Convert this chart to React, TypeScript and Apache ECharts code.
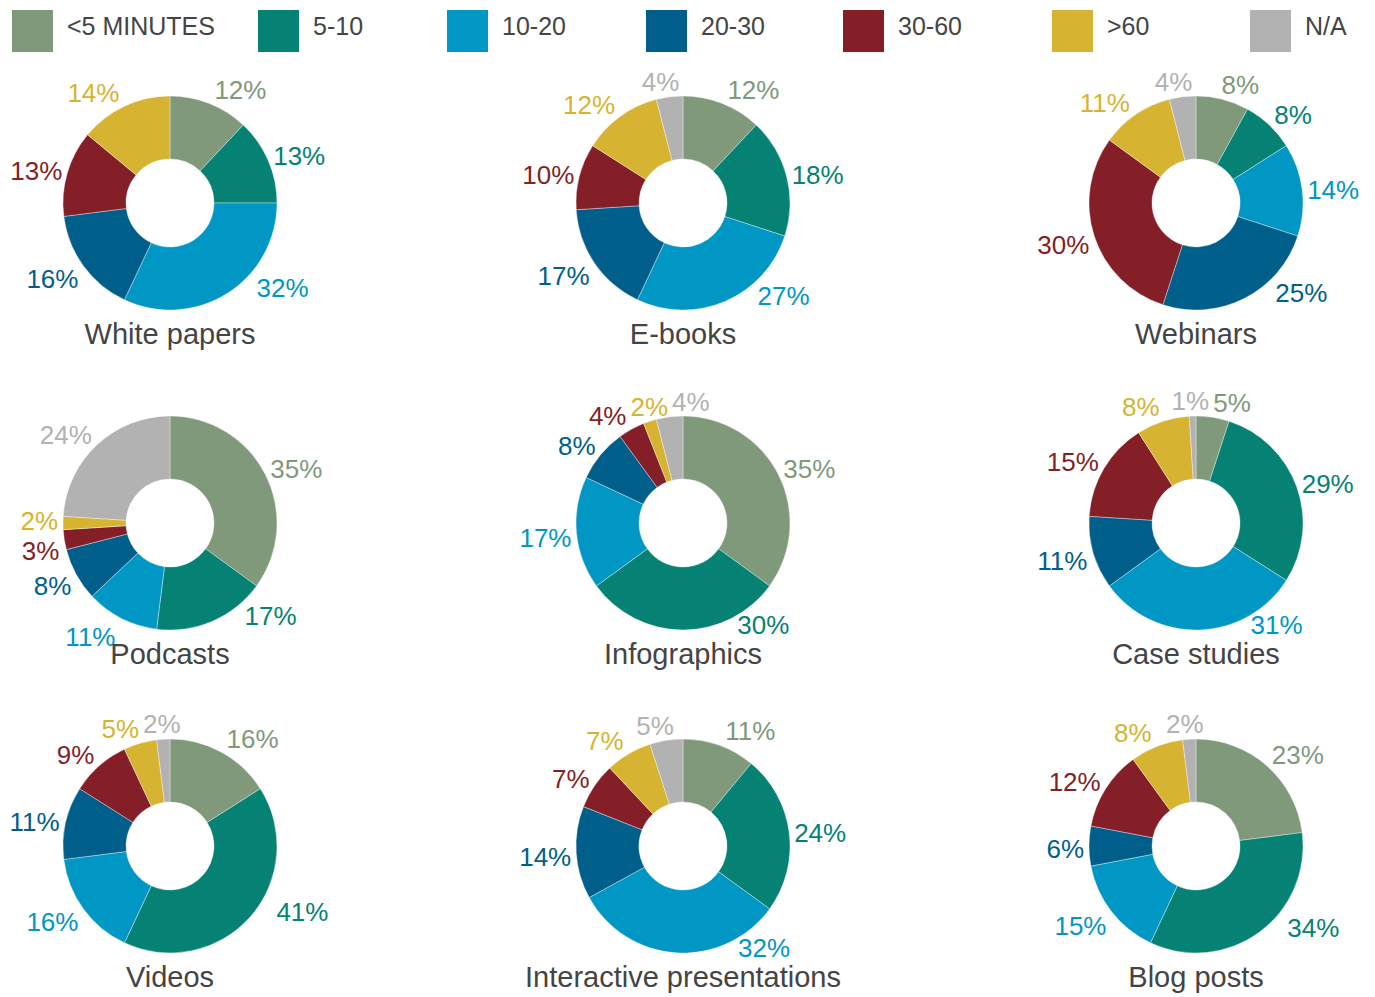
import React, { useEffect, useRef } from "react";
import * as echarts from "echarts";

const CATEGORIES = ["<5 MINUTES", "5-10", "10-20", "20-30", "30-60", ">60", "N/A"];
const COLORS = ["#7F997A", "#058273", "#0097C4", "#005F8A", "#841F27", "#D6B432", "#B2B2B2"];

const TITLES = [
  "White papers", "E-books", "Webinars",
  "Podcasts", "Infographics", "Case studies",
  "Videos", "Interactive presentations", "Blog posts",
];

// values in category order: <5, 5-10, 10-20, 20-30, 30-60, >60, N/A (null = not shown)
const WHITE_PAPERS = [12, 13, 32, 16, 13, 14, null];
const E_BOOKS = [12, 18, 27, 17, 10, 12, 4];
const WEBINARS = [8, 8, 14, 25, 30, 11, 4];
const PODCASTS = [35, 17, 11, 8, 3, 2, 24];
const INFOGRAPHICS = [35, 30, 17, 8, 4, 2, 4];
const CASE_STUDIES = [5, 29, 31, 11, 15, 8, 1];
const VIDEOS = [16, 41, 16, 11, 9, 5, 2];
const INTERACTIVE = [11, 24, 32, 14, 7, 7, 5];
const BLOG_POSTS = [23, 34, 15, 6, 12, 8, 2];

const ALL_VALUES = [
  WHITE_PAPERS, E_BOOKS, WEBINARS,
  PODCASTS, INFOGRAPHICS, CASE_STUDIES,
  VIDEOS, INTERACTIVE, BLOG_POSTS,
];

const COL_X = [170, 683, 1196];
const ROW_Y = [203, 523, 846];
const LEGEND_X = [12, 258, 447, 646, 843, 1052, 1250];
const R_IN = 44;
const R_OUT = 107;

const FONT = "'Liberation Sans', Arial, Helvetica, sans-serif";
const LABEL_FS = 26;

type Pos = { x: number; y: number; w: number; h: number; dx: number; dy: number };

// Compute outside-end style label positions for one donut, from its data.
function computeLabelPositions(values: number[], cx: number, cy: number): Pos[] {
  const total = values.reduce((a, b) => a + b, 0);
  let cum = 0;
  const pos: Pos[] = values.map((v) => {
    const mid = ((cum + v / 2) / total) * Math.PI * 2;
    cum += v;
    const dx = Math.sin(mid);
    const dy = -Math.cos(mid);
    const ex = cx + R_OUT * dx;
    const ey = cy + R_OUT * dy;
    const txt = String(v);
    const w = (txt.length * 0.556 + 0.889) * LABEL_FS;
    const h = LABEL_FS + 4;
    let x: number;
    let y: number;
    if (dy > 0.5 && dx > -0.2) {
      // lower-right: keep beside the ring, away from the title
      y = ey - 5;
      const off = Math.sqrt(Math.max(0, R_OUT * R_OUT - (y - cy) * (y - cy)));
      x = cx + off + 22 + w / 2;
    } else {
      const f = Math.min(1, 3 * Math.abs(dx));
      x = ex + Math.sign(dx) * (w / 2 + 5) * f;
      y = ey + dy * (LABEL_FS / 2 + 5) + 3;
    }
    return { x, y, w, h, dx, dy };
  });
  // resolve overlaps
  for (let pass = 0; pass < 4; pass++) {
    for (let i = 0; i < pos.length; i++) {
      for (let j = i + 1; j < pos.length; j++) {
        const a = pos[i];
        const b = pos[j];
        const ox = (a.w + b.w) / 2 + 4 - Math.abs(a.x - b.x);
        const oy = (a.h + b.h) / 2 - Math.abs(a.y - b.y);
        if (ox <= 0 || oy <= 0) continue;
        const horizontal = Math.abs(a.dy) > 0.7 && Math.abs(b.dy) > 0.7;
        if (horizontal) {
          if (b.x >= a.x) b.x += ox;
          else a.x += ox;
        } else {
          const upper = a.y <= b.y ? a : b;
          const lower = a.y <= b.y ? b : a;
          upper.y -= oy / 2;
          lower.y += oy / 2;
        }
      }
    }
  }
  return pos;
}

export default function App() {
  const ref = useRef<HTMLDivElement>(null);

  useEffect(() => {
    document.body.style.margin = "0";
    const chart = echarts.init(ref.current!, null, { renderer: "svg" });

    const series = ALL_VALUES.map((vals, i) => {
      const cx = COL_X[i % 3];
      const cy = ROW_Y[Math.floor(i / 3)];
      const items = vals
        .map((v, k) => (v === null ? null : { k, v: v as number }))
        .filter((d) => d !== null) as { k: number; v: number }[];
      const positions = computeLabelPositions(items.map((d) => d.v), cx, cy);
      const data = items.map(({ k, v }) => ({
        name: CATEGORIES[k],
        value: v,
        itemStyle: { color: COLORS[k] },
        label: { color: COLORS[k] },
      }));
      return {
        type: "pie",
        name: TITLES[i],
        center: [cx, cy],
        radius: [R_IN, R_OUT],
        startAngle: 90,
        clockwise: true,
        avoidLabelOverlap: false,
        itemStyle: { borderColor: "rgba(255,255,255,0.6)", borderWidth: 0.6 },
        label: {
          show: true,
          position: "outside",
          formatter: "{c}%",
          fontSize: LABEL_FS,
          fontFamily: FONT,
          fontWeight: "normal",
        },
        labelLine: { show: false, length: 6, length2: 0 },
        labelLayout: (params: any) => {
          const p = positions[params.dataIndex];
          if (!p) return {};
          return { x: p.x, y: p.y, align: "center", verticalAlign: "middle" };
        },
        emphasis: { disabled: true },
        data,
      };
    });

    const titles = TITLES.map((t, i) => ({
      text: t,
      left: COL_X[i % 3],
      top: ROW_Y[Math.floor(i / 3)] + 116,
      textAlign: "center",
      padding: 0,
      textStyle: {
        fontSize: 29,
        fontWeight: "normal",
        fontFamily: FONT,
        color: "#444444",
      },
    }));

    const legendGraphics: any[] = [];
    CATEGORIES.forEach((c, k) => {
      legendGraphics.push({
        type: "rect",
        left: LEGEND_X[k],
        top: 10,
        shape: { width: 41, height: 42 },
        style: { fill: COLORS[k] },
        silent: true,
      });
      legendGraphics.push({
        type: "text",
        x: LEGEND_X[k] + 55,
        y: 26,
        style: {
          text: c,
          fontSize: 25,
          fontFamily: FONT,
          fill: "#444444",
          verticalAlign: "middle",
          align: "left",
        },
        silent: true,
      });
    });

    chart.setOption({
      animation: false,
      backgroundColor: "#ffffff",
      title: titles,
      graphic: legendGraphics,
      series,
    });

    return () => chart.dispose();
  }, []);

  return (
    <div
      ref={ref}
      style={{ position: "absolute", left: 0, top: 0, width: 1375, height: 997 }}
    />
  );
}
